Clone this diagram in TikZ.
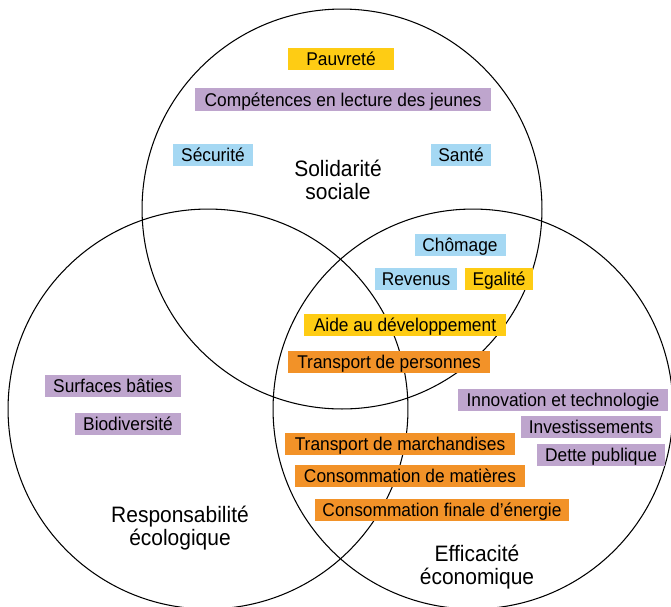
\documentclass[tikz,border=0pt]{standalone}
\usepackage{fontspec}
\setmainfont{Liberation Sans}[FakeStretch=0.94]
\definecolor{jaune}{HTML}{FECC14}
\definecolor{violet}{HTML}{BEA5CD}
\definecolor{bleu}{HTML}{A5D8F3}
\definecolor{orange}{HTML}{F29228}

\begin{document}
\begin{tikzpicture}[x=0.02cm, y=-0.02cm,
  box/.style={rectangle, inner xsep=0pt, inner ysep=2.75pt, text height=7.5pt, text depth=0pt,
    font=\fontsize{10.5}{12}\selectfont},
  titre/.style={align=center, font=\fontsize{12.7}{12.8}\selectfont}]
  \useasboundingbox (0,0) rectangle (671,606);

  \draw[line width=0.6pt] (342,209) circle (4cm);
  \draw[line width=0.6pt] (208,409) circle (4cm);
  \draw[line width=0.6pt] (473,409) circle (4cm);

  \node[titre] (social) at (338,180) {Solidarité\\sociale};
  \node[titre] (eco) at (180,528) {Responsabilité\\écologique};
  \node[titre] (econ) at (477,567) {Efficacité\\économique};

  \node[box, fill=jaune, minimum width=2.12cm] (pauvrete) at (341,59) {Pauvreté};
  \node[box, fill=violet, minimum width=5.92cm] (lecture) at (343,99.5) {Compétences en lecture des jeunes};
  \node[box, fill=bleu, minimum width=1.60cm] (securite) at (213,155) {Sécurité};
  \node[box, fill=bleu, minimum width=1.20cm] (sante) at (461,155) {Santé};
  \node[box, fill=bleu, minimum width=1.82cm] (chomage) at (460,245) {Chômage};
  \node[box, fill=bleu, minimum width=1.64cm] (revenus) at (416,279) {Revenus};
  \node[box, fill=jaune, minimum width=1.36cm] (egalite) at (499,279) {Egalité};
  \node[box, fill=jaune, minimum width=4.04cm] (aide) at (405,325) {Aide au développement};
  \node[box, fill=orange, minimum width=4.06cm] (tpers) at (389,362) {Transport de personnes};
  \node[box, fill=violet, minimum width=2.74cm] (surfaces) at (113,386) {Surfaces bâties};
  \node[box, fill=violet, minimum width=2.14cm] (biodiv) at (128,424) {Biodiversité};
  \node[box, fill=violet, minimum width=4.22cm] (innov) at (563,400) {Innovation et technologie};
  \node[box, fill=violet, minimum width=2.80cm] (invest) at (591,427) {Investissements};
  \node[box, fill=violet, minimum width=2.56cm] (dette) at (601,455) {Dette publique};
  \node[box, fill=orange, minimum width=4.62cm] (tmarch) at (400,444) {Transport de marchandises};
  \node[box, fill=orange, minimum width=4.62cm] (matieres) at (410,476) {Consommation de matières};
  \node[box, fill=orange, minimum width=5.10cm] (energie) at (442,510) {Consommation finale d’énergie};
\end{tikzpicture}
\end{document}
